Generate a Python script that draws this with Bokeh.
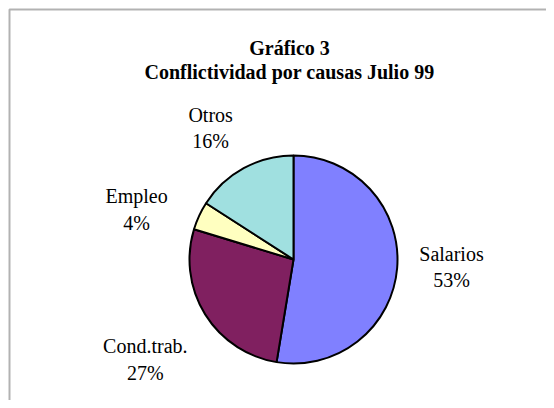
import math
from bokeh.plotting import figure
from bokeh.models import Range1d, ColumnDataSource, BoxAnnotation
from bokeh.core.properties import value
from bokeh.embed import file_html
from bokeh.resources import INLINE

# ---- data ----
causes = ["Salarios", "Cond.trab.", "Empleo", "Otros"]
shares = [52.6, 27.1, 4.4, 15.9]
colors = ["#8080FF", "#802060", "#FFFFC0", "#A0E0E0"]
title_lines = ["Gráfico 3", "Conflictividad por causas Julio 99"]

# ---- layout (canvas pixels, y measured from the top) ----
W, H = 546, 400


def dx(px):
    return px


def dy(py):
    return H - py


CX, CY, R = dx(293), dy(259), 104
FS = 20
GAP = 25
FONT = "Liberation Serif"
# small manual nudges (px, x right / y up) applied to the automatic label placement
label_nudge = [(-5, 6), (0, -8), (-14, -16), (-8, -6)]

p = figure(width=W, height=H, output_backend="svg", toolbar_location=None,
           x_range=Range1d(0, W), y_range=Range1d(0, H),
           x_axis_location=None, y_axis_location=None,
           min_border=0, min_border_left=0, min_border_right=0,
           min_border_top=0, min_border_bottom=0,
           border_fill_color="white", background_fill_color="white",
           outline_line_color=None)
p.grid.grid_line_color = None

# chart-area border (its right and bottom sides lie outside the picture)
p.add_layout(BoxAnnotation(left=dx(9), top=dy(9), right=dx(W + 40), bottom=dy(H + 40),
                           fill_color=None, line_color="black", line_width=2))

total = sum(shares)
starts, ends, cum = [], [], 0.0
for s in shares:
    starts.append(math.pi / 2 - 2 * math.pi * cum / total)
    cum += s
    ends.append(math.pi / 2 - 2 * math.pi * cum / total)

src = ColumnDataSource(dict(start=starts, end=ends, color=colors, cause=causes))
p.wedge(x=CX, y=CY, radius=R, start_angle="start", end_angle="end", direction="clock",
        fill_color="color", line_color="black", line_width=2, source=src)

# data labels placed outside the pie along each slice's mid-angle
lx, ly, lt = [], [], []
for name, s, a0, a1, (nx, ny) in zip(causes, shares, starts, ends, label_nudge):
    m = (a0 + a1) / 2
    c, sn = math.cos(m), math.sin(m)
    hw = 0.215 * FS * len(name)
    hh = 1.2 * FS
    ext = min(hw / max(abs(c), 1e-6), hh / max(abs(sn), 1e-6))
    d = R + GAP + ext
    lx.append(CX + d * c + nx)
    ly.append(CY + d * sn + ny)
    lt.append(f"{name}\n{round(s / total * 100)}%")

p.text(x=lx, y=ly, text=lt, text_align="center", text_baseline="middle",
       text_font=value(FONT), text_font_size=f"{FS}px", text_line_height=1.2,
       text_color="black")

# title
p.text(x=[dx(289)] * 2, y=[dy(47), dy(47) - 24], text=title_lines,
       text_align="center", text_baseline="alphabetic",
       text_font=value(FONT), text_font_size=f"{FS}px", text_font_style="bold",
       text_color="black")

open("out.html", "w").write(file_html(p, INLINE))
